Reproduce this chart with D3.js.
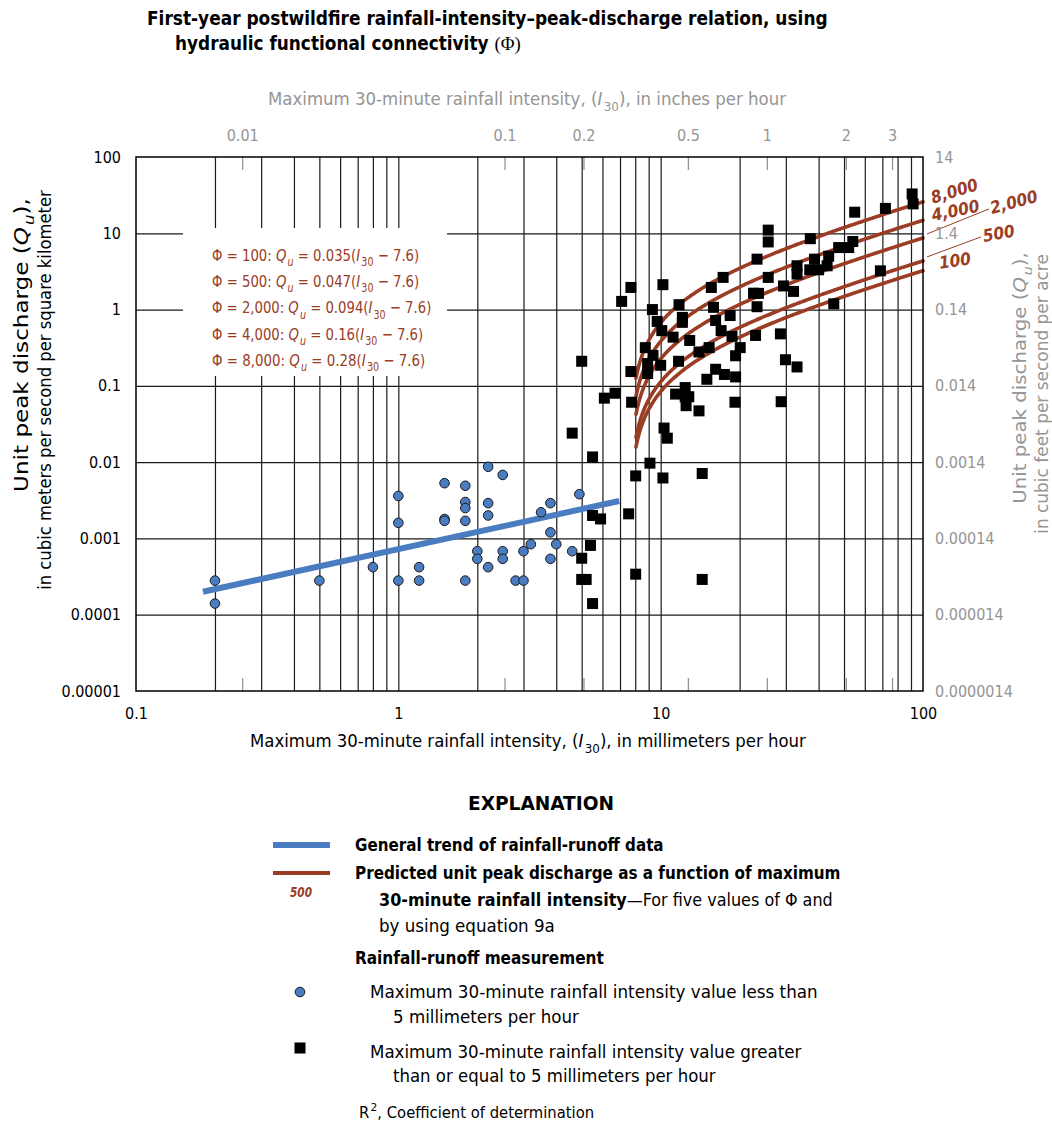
<!DOCTYPE html>
<html>
<head>
<meta charset="utf-8">
<script src="https://cdn.jsdelivr.net/npm/d3@7"></script>
<style>
  body { margin: 0; background: #fff; }
  svg { display: block; }
</style>
</head>
<body>
<div id="chart"></div>
<script>
// ---- Rainfall-runoff measurements: I30 less than 5 mm/h (mm/h, m3/s/km2) ----
const lowI30 = [0.2, 0.2, 0.5, 0.8, 1.0, 1.0, 1.0, 1.2, 1.2, 1.5, 1.5, 1.5, 1.8, 1.8, 1.8, 1.8, 1.8,
  2.0, 2.0, 2.2, 2.2, 2.2, 2.2, 2.5, 4.9, 3.8, 3.5, 3.8, 3.2, 4.0, 2.5, 2.5, 3.0, 4.6, 3.8, 2.8, 3.0];
const lowQu = [0.00028, 0.00014, 0.00028, 0.00042, 0.0036, 0.0016, 0.00028, 0.00042, 0.00028, 0.0053, 0.0018, 0.0017,
  0.0049, 0.0030, 0.0025, 0.0017, 0.00028, 0.00068, 0.00054, 0.0087, 0.0029, 0.0020, 0.00042, 0.0068, 0.0038,
  0.0029, 0.0022, 0.0012, 0.00084, 0.00084, 0.00068, 0.00054, 0.00068, 0.00068, 0.00054, 0.00028, 0.00028];

// ---- Rainfall-runoff measurements: I30 greater than or equal to 5 mm/h ----
const highI30 = [5.0, 4.6, 5.5, 5.5, 5.9, 5.4, 5.0, 5.0, 5.2, 5.5, 6.1, 6.7, 7.7, 7.75, 7.1, 7.7, 10.2, 9.3, 9.7, 10.1,
  11.75, 12.1, 12.1, 11.15, 12.9, 8.74, 9.35, 8.92, 8.92, 10.0, 11.7, 14.0, 15.3, 15.6, 17.3, 15.9, 16.2, 17.0,
  18.4, 18.7, 20.1, 19.3, 22.6, 23.6, 23.3, 23.0, 16.2, 17.5, 19.3, 15.0, 12.4, 11.4, 12.4, 12.8, 12.5, 14.0,
  19.2, 10.3, 10.6, 9.1, 8.03, 10.2, 14.4, 7.55, 8.03, 14.4, 90.9, 91.7, 71.9, 54.9, 25.7, 25.7, 37.2, 23.3,
  25.7, 33.1, 33.1, 38.6, 37.0, 40.0, 43.1, 43.7, 47.7, 52.1, 54.0, 29.4, 32.1, 28.6, 29.9, 33.1, 28.8, 45.7, 68.8];
const highQu = [0.21, 0.024, 0.0117, 0.0020, 0.0018, 0.00081, 0.00055, 0.00029, 0.00029, 0.00014, 0.069, 0.080,
  0.154, 0.061, 1.28, 1.95, 2.12, 1.0, 0.70, 0.53, 1.16, 0.79, 0.68, 0.435, 0.394, 0.317, 0.251, 0.196, 0.145,
  0.186, 0.21, 0.278, 0.317, 1.95, 2.64, 1.07, 0.72, 0.53, 0.835, 0.445, 0.317, 0.248, 1.64, 1.63, 1.09, 0.458,
  0.165, 0.141, 0.131, 0.122, 0.095, 0.078, 0.072, 0.072, 0.055, 0.047, 0.061, 0.028, 0.0206, 0.0097, 0.0066,
  0.0062, 0.0071, 0.0021, 0.00034, 0.00029, 32.8, 24.3, 21.2, 18.9, 11.0, 7.7, 8.5, 4.58, 2.64, 3.75, 2.92,
  4.58, 3.32, 3.32, 3.75, 5.0, 6.5, 6.5, 7.8, 2.04, 1.73, 0.48, 0.22, 0.177, 0.062, 1.19, 3.22];

// ---- General trend of rainfall-runoff data (end points) ----
const trendI30 = [0.18, 6.95];
const trendQu = [0.0002, 0.0031];

// ---- Equation 9a: Qu = a (I30 - 7.6), one curve per value of Phi ----
const phiValues = [100, 500, 2000, 4000, 8000];
const phiLabels = ["100", "500", "2,000", "4,000", "8,000"];
const phiCoefficients = [0.035, 0.047, 0.094, 0.16, 0.28];
const phiCoefficientLabels = ["0.035", "0.047", "0.094", "0.16", "0.28"];
const thresholdI30 = 7.6;
const curveStartI30 = 8.05;
const curveEndI30 = 100;

// ---- Axes ----
const xTickValues = [0.1, 1, 10, 100];
const xTickLabels = ["0.1", "1", "10", "100"];
const yTickValues = [0.00001, 0.0001, 0.001, 0.01, 0.1, 1, 10, 100];
const yTickLabels = ["0.00001", "0.0001", "0.001", "0.01", "0.1", "1", "10", "100"];
const yRightLabels = ["0.0000014", "0.000014", "0.00014", "0.0014", "0.014", "0.14", "1.4", "14"];
const topTickInches = [0.01, 0.1, 0.2, 0.5, 1, 2, 3];
const topTickLabels = ["0.01", "0.1", "0.2", "0.5", "1", "2", "3"];
const mmPerInch = 25.4;

// ---- Styling ----
const FONT = "'DejaVu Sans Condensed','Liberation Sans Narrow','Arial Narrow',sans-serif";
const BROWN = "#9b3c25";
const BLUE = "#4a7cc2";
const GRAY = "#959595";

const W = 1052, H = 1126;
const plot = { left: 136, right: 923, top: 157, bottom: 691 };

const svg = d3.select("#chart").append("svg")
  .attr("width", W).attr("height", H)
  .attr("font-family", FONT);
svg.append("rect").attr("width", W).attr("height", H).attr("fill", "#fff");

const x = d3.scaleLog().domain([0.1, 100]).range([plot.left, plot.right]);
const y = d3.scaleLog().domain([0.00001, 100]).range([plot.bottom, plot.top]);
const pw = plot.right - plot.left, ph = plot.bottom - plot.top;

// Rich text: parts with italic / subscript / superscript / weight / family
function rich(sel, parts, size) {
  let shift = 0;
  parts.forEach(p => {
    const ts = sel.append("tspan").text(p.t);
    const target = p.sub ? size * 0.32 : p.sup ? -size * 0.42 : 0;
    if (target - shift !== 0) ts.attr("dy", (target - shift).toFixed(2));
    if (p.sub || p.sup) ts.attr("dx", (size * 0.08).toFixed(2));
    shift = target;
    if (p.sub || p.sup) ts.attr("font-size", (size * 0.72).toFixed(2));
    if (p.it) ts.attr("font-style", "italic");
    if (p.b) ts.attr("font-weight", "bold");
    if (p.n) ts.attr("font-weight", "normal");
    if (p.f) ts.attr("font-family", p.f);
  });
  return sel;
}
// A text line; with a width it is narrowed horizontally (condensed face) to span that width
function label(parent, xx, yy, parts, o) {
  const t = parent.append("text")
    .attr("x", 0).attr("y", 0)
    .attr("font-size", o.size)
    .attr("fill", o.fill || "#000")
    .attr("text-anchor", o.anchor || "start");
  if (o.bold) t.attr("font-weight", "bold");
  if (o.italic) t.attr("font-style", "italic");
  rich(t, typeof parts === "string" ? [{ t: parts }] : parts, o.size);
  let sx = 1;
  if (o.width) {
    const len = t.node().getComputedTextLength();
    if (len > 0) sx = o.width / len;
  }
  t.attr("transform", `translate(${xx},${yy})` + (o.rotate ? ` rotate(${o.rotate})` : "") +
    (sx !== 1 ? ` scale(${sx.toFixed(4)},1)` : ""));
  return t;
}

// ---- Title ----
label(svg, 147, 25, "First-year postwildfire rainfall-intensity\u2013peak-discharge relation, using",
  { size: 19.5, bold: true, width: 681 });
label(svg, 175, 50, [{ t: "hydraulic functional connectivity " }, { t: "(\u03A6)", n: true, f: "'Liberation Serif',serif" }],
  { size: 19.5, bold: true, width: 346 });

// ---- Grid ----
const gridX = [];
[0.1, 1, 10].forEach(d => { for (let k = 2; k <= 9; k++) gridX.push(k * d); if (d < 10) gridX.push(d * 10); });
const gridY = yTickValues.slice(1, -1);

const gx = svg.append("g").attr("transform", `translate(0,${plot.bottom})`)
  .call(d3.axisBottom(x).tickValues(gridX.filter(v => v < 100)).tickSize(-ph).tickFormat(""));
gx.select(".domain").remove();
gx.selectAll("line").attr("stroke", "#1a1a1a").attr("stroke-width", 1.2);

const gy = svg.append("g").attr("transform", `translate(${plot.left},0)`)
  .call(d3.axisLeft(y).tickValues(gridY).tickSize(-pw).tickFormat(""));
gy.select(".domain").remove();
gy.selectAll("line").attr("stroke", "#1a1a1a").attr("stroke-width", 1.2);

// Inch ticks (gray) along top and bottom edges
const inchMM = topTickInches.map(v => v * mmPerInch);
const tTop = svg.append("g").attr("transform", `translate(0,${plot.top})`)
  .call(d3.axisTop(x).tickValues(inchMM).tickSize(-13).tickPadding(16)
    .tickFormat((d, i) => topTickLabels[i]));
tTop.select(".domain").remove();
tTop.selectAll("line").attr("stroke", GRAY).attr("stroke-width", 1.3);
tTop.selectAll("text").attr("fill", GRAY).attr("font-size", 16).attr("font-family", FONT);

const tBot = svg.append("g").attr("transform", `translate(0,${plot.bottom})`)
  .call(d3.axisBottom(x).tickValues(inchMM).tickSize(-13).tickFormat(""));
tBot.select(".domain").remove();
tBot.selectAll("line").attr("stroke", GRAY).attr("stroke-width", 1.3);

// ---- Equation box ----
const eqBox = svg.append("g");
eqBox.append("rect").attr("x", 183).attr("y", 228).attr("width", 264).attr("height", 148).attr("fill", "#fff");
const eqWidths = [205, 205, 217, 209, 211];
phiValues.forEach((phi, i) => {
  label(eqBox, 212, 261 + i * 26.2, [
    { t: `\u03A6 = ${phiLabels[i]}: ` }, { t: "Q", it: true }, { t: "u", it: true, sub: true },
    { t: ` = ${phiCoefficientLabels[i]}(` }, { t: "I", it: true }, { t: "30", sub: true },
    { t: ` \u2212 ${thresholdI30})` }
  ], { size: 16, fill: BROWN, width: eqWidths[i] });
});

// ---- Trend line ----
const lineGen = d3.line().x(d => x(d[0])).y(d => y(d[1]));
svg.append("path")
  .datum(trendI30.map((v, i) => [v, trendQu[i]]))
  .attr("d", lineGen).attr("fill", "none")
  .attr("stroke", BLUE).attr("stroke-width", 6);

// ---- Predicted curves (equation 9a) ----
const nSteps = 240;
const curveI = d3.range(nSteps + 1).map(i => curveStartI30 * Math.pow(curveEndI30 / curveStartI30, i / nSteps));
const curves = phiCoefficients.map(a => curveI.map(I => [I, a * (I - thresholdI30)]));
svg.append("g").selectAll("path").data(curves).join("path")
  .attr("d", lineGen).attr("fill", "none")
  .attr("stroke", BROWN).attr("stroke-width", 3.6).attr("stroke-linecap", "round");

// ---- Measurements ----
svg.append("g").selectAll("circle").data(lowI30.map((v, i) => [v, lowQu[i]])).join("circle")
  .attr("cx", d => x(d[0])).attr("cy", d => y(d[1])).attr("r", 4.8)
  .attr("fill", BLUE).attr("stroke", "#1a1a1a").attr("stroke-width", 1);
const sq = 11;
svg.append("g").selectAll("rect").data(highI30.map((v, i) => [v, highQu[i]])).join("rect")
  .attr("x", d => x(d[0]) - sq / 2).attr("y", d => y(d[1]) - sq / 2)
  .attr("width", sq).attr("height", sq).attr("fill", "#000");

// ---- Plot frame ----
svg.append("rect").attr("x", plot.left).attr("y", plot.top).attr("width", pw).attr("height", ph)
  .attr("fill", "none").attr("stroke", "#000").attr("stroke-width", 1.5);

// ---- Curve labels at the right edge ----
const curveEndY = phiCoefficients.map(a => y(a * (curveEndI30 - thresholdI30)));
const xr = x(curveEndI30);
const curveLabelSpec = [
  { dx: 17, dy: -2, rot: -8 },                  // 100
  { dx: 61, dy: -19, rot: -10, leader: true },  // 500
  { dx: 69, dy: -24, rot: -15, leader: true },  // 2,000
  { dx: 10, dy: 1, rot: -12 },                  // 4,000
  { dx: 10, dy: 2, rot: -17 }                   // 8,000
];
const clg = svg.append("g");
phiLabels.forEach((lab, i) => {
  const s = curveLabelSpec[i];
  const lx = xr + s.dx, ly = curveEndY[i] + s.dy;
  if (s.leader) {
    clg.append("line").attr("x1", xr + 4).attr("y1", curveEndY[i] - 4)
      .attr("x2", lx - 3).attr("y2", ly - 5)
      .attr("stroke", BROWN).attr("stroke-width", 1);
  }
  label(clg, lx, ly, lab, { size: 17, fill: BROWN, bold: true, italic: true, rotate: s.rot });
});

// ---- Axis tick labels ----
const bx = svg.append("g").attr("transform", `translate(0,${plot.bottom})`)
  .call(d3.axisBottom(x).tickValues(xTickValues).tickSize(0).tickPadding(17)
    .tickFormat((d, i) => xTickLabels[i]));
bx.select(".domain").remove();
bx.selectAll("text").attr("fill", "#000").attr("font-size", 16).attr("font-family", FONT);

const ly = svg.append("g").attr("transform", `translate(${plot.left},0)`)
  .call(d3.axisLeft(y).tickValues(yTickValues).tickSize(0).tickPadding(15)
    .tickFormat((d, i) => yTickLabels[i]));
ly.select(".domain").remove();
ly.selectAll("text").attr("fill", "#000").attr("font-size", 16).attr("font-family", FONT);

const ry = svg.append("g").attr("transform", `translate(${plot.right},0)`)
  .call(d3.axisRight(y).tickValues(yTickValues).tickSize(0).tickPadding(12)
    .tickFormat((d, i) => yRightLabels[i]));
ry.select(".domain").remove();
ry.selectAll("text").attr("fill", GRAY).attr("font-size", 16).attr("font-family", FONT);

// ---- Axis titles ----
const i30 = [{ t: "I", it: true }, { t: "30", sub: true }];
label(svg, 268, 105, [{ t: "Maximum 30-minute rainfall intensity, (" }, ...i30, { t: "), in inches per hour" }],
  { size: 17.5, fill: GRAY, width: 517 });
label(svg, 250, 747, [{ t: "Maximum 30-minute rainfall intensity, (" }, ...i30, { t: "), in millimeters per hour" }],
  { size: 17.5, width: 555 });
const qu = [{ t: "Q", it: true }, { t: "u", it: true, sub: true }];
label(svg, 28, 345, [{ t: "Unit peak discharge (" }, ...qu, { t: ")," }],
  { size: 19, anchor: "middle", rotate: -90, width: 292 });
label(svg, 51, 390, "in cubic meters per second per square kilometer",
  { size: 17, anchor: "middle", rotate: -90, width: 400 });
label(svg, 1026, 378, [{ t: "Unit peak discharge (" }, ...qu, { t: ")," }],
  { size: 18, fill: GRAY, anchor: "middle", rotate: -90, width: 250 });
label(svg, 1048, 394, "in cubic feet per second per acre",
  { size: 17, fill: GRAY, anchor: "middle", rotate: -90, width: 280 });

// ---- Explanation ----
const lg = svg.append("g");
label(lg, 541, 810, "EXPLANATION", { size: 20, bold: true, anchor: "middle", width: 146 });
lg.append("line").attr("x1", 273).attr("x2", 330).attr("y1", 845).attr("y2", 845)
  .attr("stroke", BLUE).attr("stroke-width", 6);
label(lg, 355, 851, "General trend of rainfall-runoff data", { size: 17.5, bold: true, width: 309 });
lg.append("line").attr("x1", 273).attr("x2", 330).attr("y1", 873).attr("y2", 873)
  .attr("stroke", BROWN).attr("stroke-width", 4);
label(lg, 301, 897, "500", { size: 13.5, bold: true, italic: true, fill: BROWN, anchor: "middle", width: 22 });
label(lg, 355, 879, "Predicted unit peak discharge as a function of maximum", { size: 17.5, bold: true, width: 486 });
label(lg, 379, 906, [{ t: "30-minute rainfall intensity", b: true }, { t: "\u2014For five values of \u03A6 and" }],
  { size: 17.5, width: 454 });
label(lg, 379, 932, "by using equation 9a", { size: 17.5, width: 176 });
label(lg, 355, 964, "Rainfall-runoff measurement", { size: 17.5, bold: true, width: 249 });
lg.append("circle").attr("cx", 300).attr("cy", 992).attr("r", 4.8)
  .attr("fill", BLUE).attr("stroke", "#1a1a1a").attr("stroke-width", 1);
label(lg, 370, 998, "Maximum 30-minute rainfall intensity value less than", { size: 17.5, width: 448 });
label(lg, 393, 1023, "5 millimeters per hour", { size: 17.5, width: 186 });
lg.append("rect").attr("x", 300 - sq / 2).attr("y", 1048 - sq / 2).attr("width", sq).attr("height", sq).attr("fill", "#000");
label(lg, 370, 1058, "Maximum 30-minute rainfall intensity value greater", { size: 17.5, width: 432 });
label(lg, 393, 1082, "than or equal to 5 millimeters per hour", { size: 17.5, width: 323 });
label(lg, 359, 1118, [{ t: "R" }, { t: "2", sup: true }, { t: ", Coefficient of determination" }], { size: 15.5, width: 234 });
</script>
</body>
</html>
